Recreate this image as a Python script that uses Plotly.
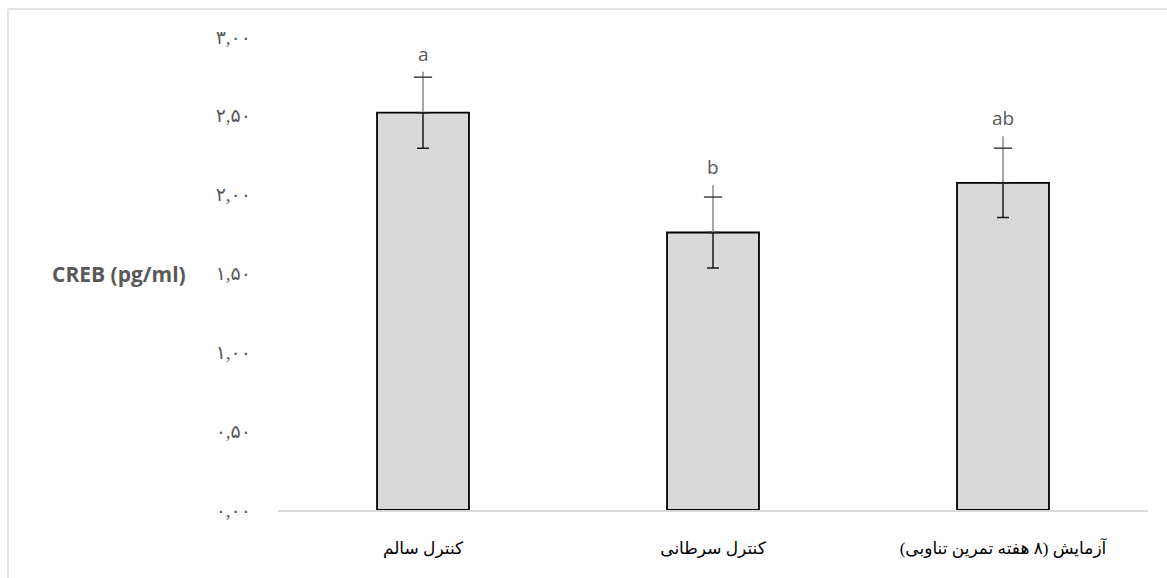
import plotly.graph_objects as go

categories = ["کنترل سالم", "کنترل سرطانی", "آزمایش (۸ هفته تمرین تناوبی)"]
means = [2.52, 1.76, 2.075]
sem = [0.225, 0.225, 0.22]
whisker_top = [2.78, 2.06, 2.37]
letters = ["a", "b", "ab"]
tick_vals = [0, 0.5, 1.0, 1.5, 2.0, 2.5, 3.0]
tick_text = ["۰,۰۰", "۰,۵۰", "۱,۰۰", "۱,۵۰", "۲,۰۰", "۲,۵۰", "۳,۰۰"]

fig = go.Figure()

fig.add_trace(go.Bar(
    x=categories, y=means,
    marker=dict(color="#d9d9d9", line=dict(color="#000000", width=1.8)),
    width=0.317,
    hoverinfo="skip",
))

# gray upper whisker line
fig.add_trace(go.Scatter(
    x=categories, y=means, mode="markers",
    marker=dict(size=0.1, color="rgba(0,0,0,0)"),
    error_y=dict(type="data", symmetric=False,
                 array=[t - m for t, m in zip(whisker_top, means)],
                 arrayminus=[0, 0, 0],
                 color="#a6a6a6", thickness=2, width=0),
    hoverinfo="skip",
))

# lower whisker (black)
fig.add_trace(go.Scatter(
    x=categories, y=means, mode="markers",
    marker=dict(size=0.1, color="rgba(0,0,0,0)"),
    error_y=dict(type="data", symmetric=False,
                 array=[0, 0, 0], arrayminus=sem,
                 color="#1a1a1a", thickness=1.5, width=6),
    hoverinfo="skip",
))

# upper cap
fig.add_trace(go.Scatter(
    x=categories, y=[m + s for m, s in zip(means, sem)], mode="markers",
    marker=dict(symbol="line-ew", size=13, line=dict(color="#404040", width=1.5)),
    hoverinfo="skip",
))

# letters
for cat, top, lab in zip(categories, whisker_top, letters):
    fig.add_annotation(
        x=cat, y=top, text=lab, showarrow=False,
        xanchor="center", yanchor="bottom", yshift=3,
        font=dict(family="Open Sans, Liberation Sans, sans-serif", size=19, color="#595959"),
    )

fig.add_annotation(
    text="<b>CREB (pg/ml)</b>", xref="paper", yref="paper",
    x=(119 - 278) / 870, y=(510 - 274) / 473, showarrow=False,
    xanchor="center", yanchor="middle",
    font=dict(family="Open Sans, Liberation Sans, sans-serif", size=21, color="#595959"),
)

# chart border (top and left)
bx = (8 - 278) / 870
by = (510 - 9) / 473
fig.add_shape(type="line", xref="paper", yref="paper", x0=bx, x1=1.05, y0=by, y1=by,
              line=dict(color="#d9d9d9", width=1.5))
fig.add_shape(type="line", xref="paper", yref="paper", x0=bx, x1=bx, y0=by, y1=-0.2,
              line=dict(color="#d9d9d9", width=1.5))

fig.update_layout(
    width=1167, height=578,
    margin=dict(l=278, r=19, t=37, b=68),
    paper_bgcolor="white", plot_bgcolor="white",
    showlegend=False,
    bargap=0.683,
    xaxis=dict(
        showline=True, linecolor="#d9d9d9", linewidth=1.5,
        ticks="", showgrid=False,
        ticklabelstandoff=22,
        tickfont=dict(family="Times New Roman, Liberation Serif, DejaVu Sans, serif", size=17, color="#000000"),
    ),
    yaxis=dict(
        range=[0, 3], showgrid=False, zeroline=False, showline=False,
        tickvals=tick_vals, ticktext=tick_text, ticks="",
        ticklabelstandoff=26,
        tickfont=dict(family="Times New Roman, Liberation Serif, DejaVu Sans, serif", size=19, color="#595959"),
    ),
)

fig.write_html("out.html")
